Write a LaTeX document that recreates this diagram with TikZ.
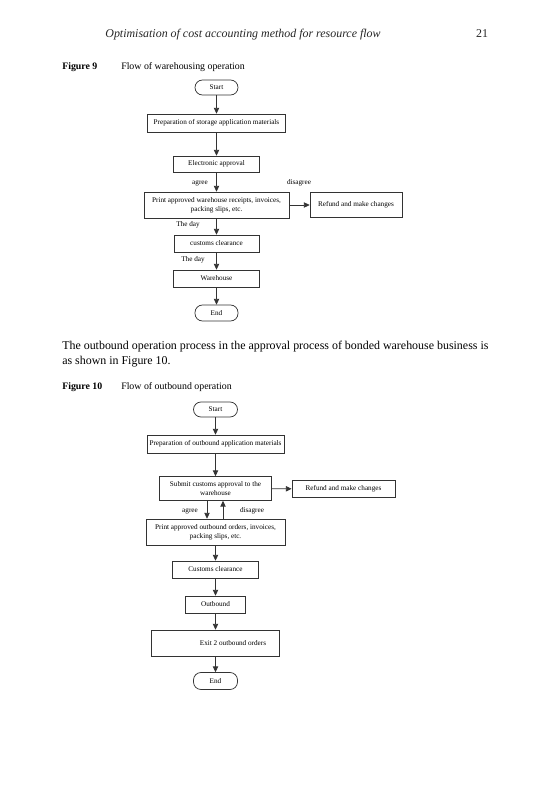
\documentclass[tikz,border=0pt]{standalone}
\usepackage{fontspec}
\setmainfont{Liberation Serif}
\usetikzlibrary{arrows.meta,calc}
\begin{document}
\begin{tikzpicture}[x=0.75pt,y=-0.75pt,
  box/.style={draw=black!80,line width=0.55pt,inner sep=0pt,align=center,
    font=\fontsize{5.4}{6.8}\selectfont},
  pill/.style={box,rounded corners=5.6pt},
  arr/.style={draw=black!80,line width=0.55pt,-{Triangle[length=4.3pt,width=4pt]}},
  lbl/.style={inner sep=0pt,font=\fontsize{5.4}{6.8}\selectfont},
  body/.style={inner sep=0pt,anchor=base west,font=\fontsize{8.95}{10}\selectfont},
  figcap/.style={inner sep=0pt,anchor=base west,font=\fontsize{7.4}{8}\selectfont}]
\useasboundingbox[fill=white] (0,0) rectangle (554,785);
% header
\node[inner sep=0pt,anchor=base,font=\fontsize{8.95}{10}\selectfont\itshape,text=black!85] (hdr) at (243,37) {Optimisation of cost accounting method for resource flow};
\node[inner sep=0pt,anchor=base,font=\fontsize{8.95}{10}\selectfont,text=black!85] (pg) at (482,37) {21};
% Figure 9 caption
\node[figcap,font=\fontsize{7.4}{8}\selectfont\bfseries] (f9a) at (62,69) {Figure 9};
\node[figcap] (f9b) at (121,69) {Flow of warehousing operation};
% Figure 9 nodes
\node[pill,minimum width=43*0.75,minimum height=15*0.75] (s9) at (216.5,87.5) {Start};
\node[box,minimum width=138*0.75,minimum height=18*0.75] (p9) at (216.5,123) {Preparation of storage application materials};
\node[box,minimum width=86*0.75,minimum height=16*0.75] (e9) at (216.5,164) {Electronic approval};
\node[box,minimum width=145*0.75,minimum height=26*0.75] (pr9) at (216.5,205) {Print approved warehouse receipts, invoices,\\packing slips, etc.};
\node[box,minimum width=92*0.75,minimum height=25*0.75] (r9) at (356,205) {Refund and make changes};
\node[box,minimum width=85*0.75,minimum height=17*0.75] (c9) at (216.5,243.5) {customs clearance};
\node[box,minimum width=86*0.75,minimum height=17*0.75] (w9) at (216.5,278.5) {Warehouse};
\node[pill,minimum width=43*0.75,minimum height=16*0.75] (end9) at (216.5,313) {End};
\draw[arr] (s9) -- (p9);
\draw[arr] (p9) -- (e9);
\draw[arr] (e9) -- (pr9);
\draw[arr] (pr9) -- (r9);
\draw[arr] (pr9) -- (c9);
\draw[arr] (c9) -- (w9);
\draw[arr] (w9) -- (end9);
\node[lbl] (l1) at (200,183) {agree};
\node[lbl] (l2) at (299,183) {disagree};
\node[lbl] (l3) at (188,225) {The day};
\node[lbl] (l4) at (193,260) {The day};
% paragraph
\node[body] (t1) at (62,349) {The outbound operation process in the approval process of bonded warehouse business is};
\node[body] (t2) at (62,364.5) {as shown in Figure 10.};
% Figure 10 caption
\node[figcap,font=\fontsize{7.4}{8}\selectfont\bfseries] (f10a) at (62,389) {Figure 10};
\node[figcap] (f10b) at (121,389) {Flow of outbound operation};
% Figure 10 nodes
\node[pill,minimum width=44*0.75,minimum height=15*0.75] (s10) at (215.5,409.5) {Start};
\node[box,minimum width=137*0.75,minimum height=18*0.75] (p10) at (215.5,444) {Preparation of outbound application materials};
\node[box,minimum width=112*0.75,minimum height=24*0.75] (sb10) at (215.5,488.5) {Submit customs approval to the\\warehouse};
\node[box,minimum width=103*0.75,minimum height=17*0.75] (r10) at (343.5,489) {Refund and make changes};
\node[box,minimum width=139*0.75,minimum height=26*0.75] (pr10) at (215.5,532) {Print approved outbound orders, invoices,\\packing slips, etc.};
\node[box,minimum width=86*0.75,minimum height=17*0.75] (c10) at (215.5,569.5) {Customs clearance};
\node[box,minimum width=60*0.75,minimum height=17*0.75] (o10) at (215.5,604.5) {Outbound};
\node[box,minimum width=128*0.75,minimum height=26*0.75] (x10) at (215.5,643) {};
\node[lbl] (x10t) at (233,643) {Exit 2 outbound orders};
\node[pill,minimum width=44*0.75,minimum height=17*0.75] (end10) at (215.5,681) {End};
\coordinate (ag) at (207,0);
\coordinate (dg) at (223,0);
\draw[arr] (s10) -- (p10);
\draw[arr] (p10) -- (sb10);
\draw[arr] (sb10) -- (r10);
\draw[arr] (sb10.south -| ag) -- (pr10.north -| ag);
\draw[arr] (pr10.north -| dg) -- (sb10.south -| dg);
\draw[arr] (pr10) -- (c10);
\draw[arr] (c10) -- (o10);
\draw[arr] (o10) -- (x10);
\draw[arr] (x10) -- (end10);
\node[lbl] (l5) at (190,511) {agree};
\node[lbl] (l6) at (252,511) {disagree};
\end{tikzpicture}
\end{document}
